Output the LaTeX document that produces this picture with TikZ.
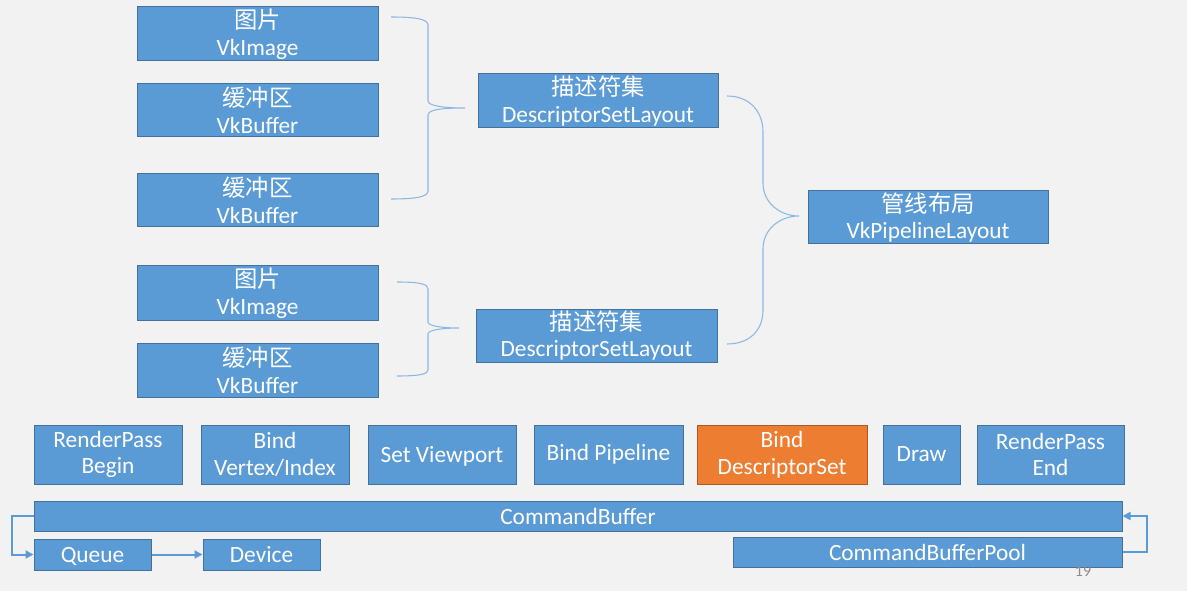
\documentclass[tikz,border=0pt]{standalone}
\usepackage{fontspec}
\setmainfont{Carlito}
\newfontfamily\cjk{Noto Sans CJK SC}
\usetikzlibrary{arrows.meta}
\definecolor{bg}{HTML}{F2F2F2}
\definecolor{boxc}{HTML}{5B9BD5}
\definecolor{bordc}{HTML}{41719C}
\definecolor{orc}{HTML}{ED7D31}
\definecolor{orbord}{HTML}{AE5A21}
\definecolor{bracec}{HTML}{8AB8E6}
\definecolor{pgc}{HTML}{8C8C8C}
\tikzset{
  box/.style={draw=bordc, fill=boxc, text=white, line width=0.75pt, inner sep=0pt, align=center,
    font=\fontsize{17.5}{20}\selectfont},
  obox/.style={box, draw=orbord, fill=orc},
  brace/.style={draw=bracec, line width=0.8pt},
  conn/.style={draw=boxc, line width=1.5pt, -{Triangle[length=6pt,width=6pt]}}
}
\begin{document}
\begin{tikzpicture}[x=0.75pt,y=-0.75pt]
\useasboundingbox (0,0) rectangle (1187,591);
\fill[bg] (0,0) rectangle (1187,591);
% upper boxes
\node[box, minimum width=180.75pt, minimum height=40.5pt] (img1) at (257.5,34) {{\cjk 图片}\\VkImage};
\node[box, minimum width=180.75pt, minimum height=39.75pt] (buf1) at (257.5,110.5) {{\cjk 缓冲区}\\VkBuffer};
\node[box, minimum width=180.75pt, minimum height=39.75pt] (buf2) at (257.5,200.5) {{\cjk 缓冲区}\\VkBuffer};
\node[box, minimum width=180pt, minimum height=40.5pt] (dsl1) at (598,101) {{\cjk 描述符集}\\DescriptorSetLayout};
\node[box, minimum width=180pt, minimum height=39.75pt] (pl) at (928,217.5) {{\cjk 管线布局}\\VkPipelineLayout};
\node[box, minimum width=180.75pt, minimum height=40.5pt] (img2) at (257.5,293) {{\cjk 图片}\\VkImage};
\node[box, minimum width=180.75pt, minimum height=40.5pt] (buf3) at (257.5,370) {{\cjk 缓冲区}\\VkBuffer};
\node[box, minimum width=180.75pt, minimum height=39.75pt] (dsl2) at (596.5,335.5) {{\cjk 描述符集}\\DescriptorSetLayout};
% bottom row
\node[box, minimum width=111pt, minimum height=44.25pt] (rpb) at (108,454.5) {RenderPass\\Begin};
\node[box, minimum width=111pt, minimum height=44.25pt] (bvi) at (275,454.5) {Bind\\Vertex/Index};
\node[box, minimum width=111pt, minimum height=44.25pt, text depth=0pt] (sv) at (442,454.5) {Set Viewport};
\node[box, minimum width=111.75pt, minimum height=44.25pt] (bp) at (608.5,454.5) {Bind Pipeline};
\node[obox, minimum width=127.5pt, minimum height=44.25pt] (bds) at (782,454.5) {Bind\\DescriptorSet};
\node[box, minimum width=57.75pt, minimum height=44.25pt] (dr) at (921.5,454.5) {Draw};
\node[box, minimum width=110.25pt, minimum height=44.25pt] (rpe) at (1050.5,454.5) {RenderPass\\End};
\node[box, minimum width=816pt, minimum height=22.5pt] (cb) at (578,516) {CommandBuffer};
\node[box, minimum width=87.75pt, minimum height=23.25pt, text depth=0pt] (queue) at (92.5,554.5) {Queue};
\node[box, minimum width=87.75pt, minimum height=23.25pt] (device) at (261.5,554.5) {Device};
\node[box, minimum width=291.75pt, minimum height=22.5pt] (cbp) at (927.5,552) {CommandBufferPool};
\node[text=pgc, font=\fontsize{12}{14}\selectfont] (pg) at (1083,571) {19};
% brace coordinates
\coordinate (b1t) at (391,17);
\coordinate (b1m) at (465,108);
\coordinate (b1b) at (391,199);
\coordinate (b3t) at (397,282);
\coordinate (b3m) at (459,328);
\coordinate (b3b) at (397,376);
\coordinate (b2t) at (727,96);
\coordinate (b2m) at (799,216);
\coordinate (b2b) at (727,344);
% brace 1
\draw[brace] (b1t) .. controls (415,17) and (428,19) .. (428,25) -- (428,101)
  .. controls (428,106) and (445,108) .. (b1m)
  .. controls (445,108) and (428,109) .. (428,115) -- (428,191)
  .. controls (428,197) and (415,199) .. (b1b);
% brace 3
\draw[brace] (b3t) .. controls (420,282) and (428,284) .. (428,289) -- (428,322)
  .. controls (428,326) and (442,328) .. (b3m)
  .. controls (442,328) and (428,330) .. (428,334) -- (428,370)
  .. controls (428,374) and (420,376) .. (b3b);
% brace 2
\draw[brace] (b2t) .. controls (750,96) and (763,112) .. (763,132) -- (763,183)
  .. controls (763,203) and (780,216) .. (b2m)
  .. controls (780,216) and (763,229) .. (763,249) -- (763,310)
  .. controls (763,330) and (750,344) .. (b2b);
% connectors
\draw[conn] (cb.west) -- ++(-22,0) |- (queue.west);
\draw[conn] (queue) -- (device);
\draw[conn] (cbp.east) -- ++(24,0) |- (cb.east);
\end{tikzpicture}
\end{document}
